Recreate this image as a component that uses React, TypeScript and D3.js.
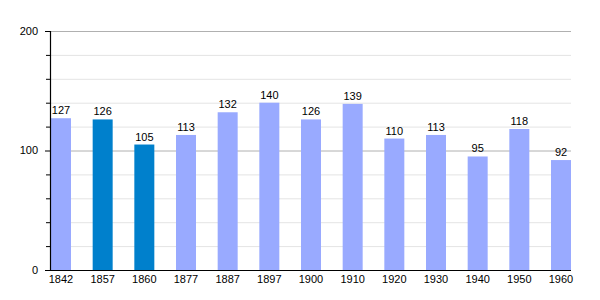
import React from "react";
import * as d3 from "d3";

const years = ["1842","1857","1860","1877","1887","1897","1900","1910","1920","1930","1940","1950","1960"];
const population = [127,126,105,113,132,140,126,139,110,113,95,118,92];
const highlighted = ["1857","1860"];
const majorTicks = [0,100,200];
const minorTicks = [20,40,60,80,120,140,160,180];

const W = 600, H = 300;
const left = 50, right = 571, top = 31, bottom = 270;

export default function App() {
  const x = d3.scaleBand<string>().domain(years).range([left + 1, right]).paddingInner(0.52).paddingOuter(0);
  const y = d3.scaleLinear().domain([0, 200]).range([bottom, top]);
  const font = "Liberation Sans, Arial, sans-serif";
  return (
    <svg width={W} height={H} style={{ position: "absolute", left: 0, top: 0, background: "#fff" }} fontFamily={font}>
      {minorTicks.map(t => (
        <g key={"m" + t}>
          <line x1={left} x2={right} y1={y(t) + 0.5} y2={y(t) + 0.5} stroke="#e4e4e4" strokeWidth={1} />
          <line x1={left - 4} x2={left} y1={y(t) + 0.5} y2={y(t) + 0.5} stroke="#000" strokeWidth={1} />
        </g>
      ))}
      {majorTicks.map(t => (
        <g key={"M" + t}>
          <line x1={left} x2={right} y1={y(t) + 0.5} y2={y(t) + 0.5} stroke="#b0b0b0" strokeWidth={1} />
          <line x1={left - 5} x2={left} y1={y(t) + 0.5} y2={y(t) + 0.5} stroke="#000" strokeWidth={1} />
          <text x={38} y={y(t)} dy="0.35em" textAnchor="end" fontSize={11} fill="#000">{t}</text>
        </g>
      ))}
      {years.map((yr, i) => {
        const v = population[i];
        const bx = x(yr)!;
        return (
          <g key={yr}>
            <rect x={bx} y={y(v)} width={x.bandwidth()} height={bottom - y(v)} fill={highlighted.includes(yr) ? "#0080cc" : "#99aaff"} />
            <text x={bx + x.bandwidth() / 2} y={y(v) - 4} textAnchor="middle" fontSize={11} fill="#000">{v}</text>
            <text x={bx + x.bandwidth() / 2} y={bottom + 13} textAnchor="middle" fontSize={11} fill="#000">{yr}</text>
          </g>
        );
      })}
      <line x1={left + 0.5} x2={left + 0.5} y1={top} y2={bottom + 1} stroke="#000" strokeWidth={1.2} />
      <line x1={left} x2={right} y1={bottom + 0.5} y2={bottom + 0.5} stroke="#000" strokeWidth={1.2} />
    </svg>
  );
}
